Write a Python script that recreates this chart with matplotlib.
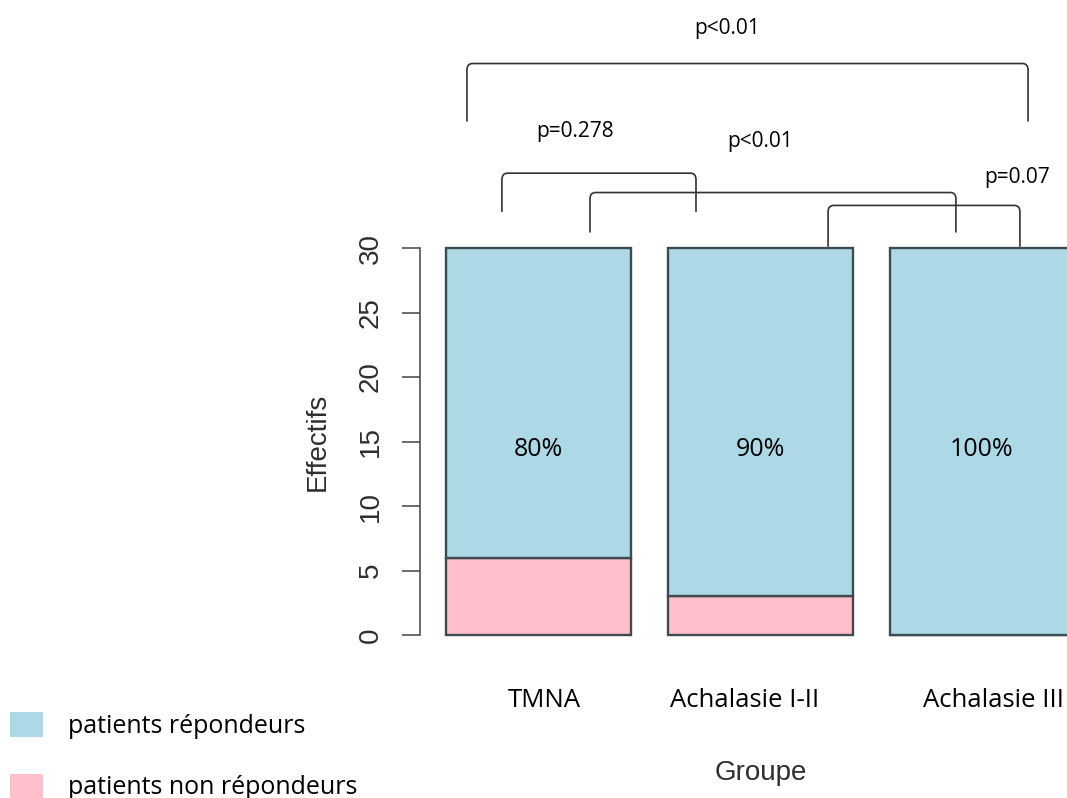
import matplotlib
matplotlib.use("Agg")
import matplotlib.pyplot as plt
from matplotlib.patches import Rectangle, PathPatch
from matplotlib.path import Path

# ---- data ----
groups = ["TMNA", "Achalasie I-II", "Achalasie III"]
non_repondeurs = [6, 3, 0]
repondeurs = [24, 27, 30]
pct_labels = ["80%", "90%", "100%"]
yticks = [0, 5, 10, 15, 20, 25, 30]
legend_labels = ["patients répondeurs", "patients non répondeurs"]
# significance brackets: (x_left, x_right, y_top, y_bottom_left, y_bottom_right)
brackets = [
    (0.316, 3.349, 44.3, 39.8, 39.8),
    (0.505, 1.554, 35.8, 32.8, 32.8),
    (0.981, 2.959, 34.3, 31.2, 31.2),
    (2.268, 3.305, 33.3, 30.1, 30.1),
]
pvals = ["p<0.01", "p=0.278", "p<0.01", "p=0.07"]
pval_pos = [(1.722, 46.6), (0.90, 38.6), (1.90, 37.85), (3.289, 35.0)]

BLUE = "#ADD8E6"
PINK = "#FFC0CB"
EDGE = "#3e4a50"
GREY = "#2e2e2e"
CAL = ["Open Sans", "DejaVu Sans"]
HELV = ["Liberation Sans", "DejaVu Sans"]

W, H = 1067, 798
fig = plt.figure(figsize=(W / 100, H / 100), dpi=100)
ax = fig.add_axes([0, 0, 1, 1])

# pixel -> data mapping (bar width 1, space 0.2, like R barplot)
x0px, xscale = 538, 185.0
y0px, yscale = 635, 12.9
def xd(px):
    return 0.7 + (px - x0px) / xscale
def yd(py):
    return (y0px - py) / yscale

ax.set_xlim(xd(0), xd(W))
ax.set_ylim(yd(H), yd(0))

centers = [0.7 + 1.2 * i for i in range(len(groups))]
ax.bar(centers, non_repondeurs, width=1.0, color=PINK, edgecolor=EDGE, linewidth=1.7, zorder=2)
ax.bar(centers, repondeurs, width=1.0, bottom=non_repondeurs, color=BLUE,
       edgecolor=EDGE, linewidth=1.7, zorder=2)

for c, lab in zip(centers, pct_labels):
    ax.text(c, 13.88, lab, ha="center", va="baseline", fontsize=18, family=CAL, color="black")

# y axis (R style)
for s in ["top", "right", "bottom"]:
    ax.spines[s].set_visible(False)
ax.spines["left"].set_position(("data", xd(420)))
ax.spines["left"].set_bounds(0, 30)
ax.spines["left"].set_color("#444444")
ax.spines["left"].set_linewidth(1.1)
ax.set_yticks(yticks)
ax.set_yticklabels([str(v) for v in yticks], rotation=90, va="center",
                   family=HELV, fontsize=20, color=GREY)
ax.tick_params(axis="y", length=13, width=1.1, color="#444444", pad=13)
ax.set_xticks([])

# category labels
cat_x = [544, 745, 993]
for px, lab in zip(cat_x, groups):
    ax.text(xd(px), yd(707), lab, ha="center", va="baseline", fontsize=18.5, family=CAL, color="black")

ax.text(xd(761), yd(780), "Groupe", ha="center", va="baseline", fontsize=20, family=HELV, color=GREY)
ax.text(xd(318), 15, "Effectifs", ha="center", va="center", rotation=90, fontsize=20,
        family=HELV, color=GREY)

# brackets with slightly rounded corners
rx, ry = 0.03, 0.5
for (xl, xr, yt, ybl, ybr) in brackets:
    verts = [(xl, ybl), (xl, yt - ry), (xl, yt), (xl + rx, yt),
             (xr - rx, yt), (xr, yt), (xr, yt - ry), (xr, ybr)]
    codes = [Path.MOVETO, Path.LINETO, Path.CURVE3, Path.CURVE3,
             Path.LINETO, Path.CURVE3, Path.CURVE3, Path.LINETO]
    ax.add_patch(PathPatch(Path(verts, codes), fill=False, edgecolor="#333333",
                           lw=1.2, clip_on=False, zorder=3))
for lab, (x, y) in zip(pvals, pval_pos):
    ax.text(x, y, lab, ha="center", va="baseline", fontsize=15, family=CAL, color="black")

# legend (pasted-style)
leg_colors = [BLUE, PINK]
leg_sq_y = [(712, 737), (774, 798)]
leg_txt_y = [733, 794]
for col, (t, b), ty, lab in zip(leg_colors, leg_sq_y, leg_txt_y, legend_labels):
    ax.add_patch(Rectangle((xd(10), yd(b)), xd(43) - xd(10), yd(t) - yd(b),
                           facecolor=col, edgecolor="none", clip_on=False))
    ax.text(xd(68), yd(ty), lab, ha="left", va="baseline", fontsize=18, family=CAL, color="black")

fig.savefig("out.png", dpi=100)
